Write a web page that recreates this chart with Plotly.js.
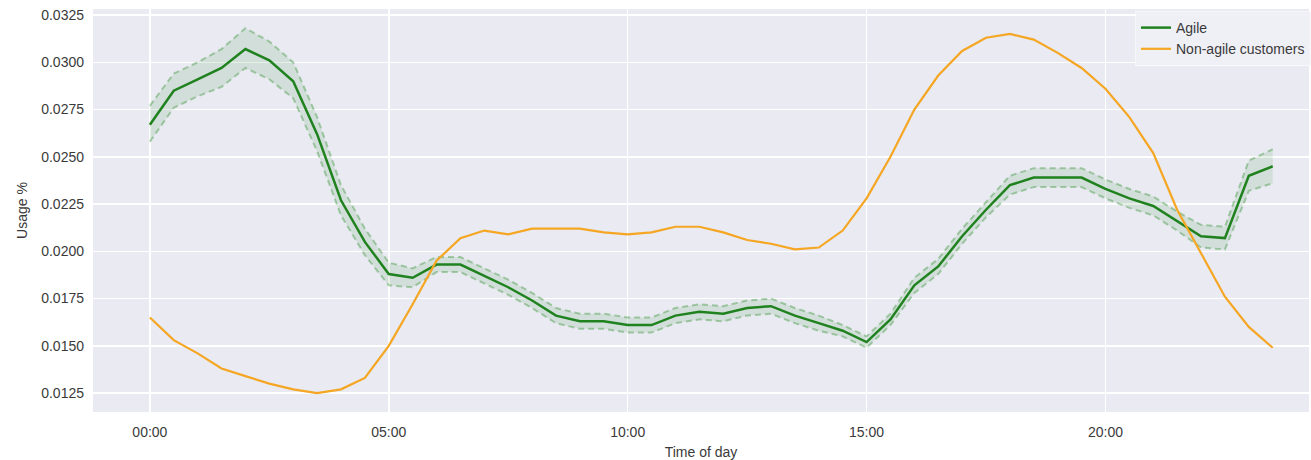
<!DOCTYPE html>
<html>
<head>
<meta charset="utf-8">
<script src="https://cdn.plot.ly/plotly-3.0.1.min.js"></script>
<style>
  html, body { margin: 0; padding: 0; background: #ffffff; }
  #chart { width: 1311px; height: 460px; }
</style>
</head>
<body>
<div id="chart"></div>
<script>
// Time of day in hours (half-hour steps)
const hours = [0, 0.5, 1, 1.5, 2, 2.5, 3, 3.5, 4, 4.5, 5, 5.5, 6, 6.5, 7, 7.5, 8, 8.5, 9, 9.5,
  10, 10.5, 11, 11.5, 12, 12.5, 13, 13.5, 14, 14.5, 15, 15.5, 16, 16.5, 17, 17.5, 18, 18.5, 19, 19.5,
  20, 20.5, 21, 21.5, 22, 22.5, 23, 23.5];

const agile = [0.0267, 0.0285, 0.0291, 0.0297, 0.0307, 0.0301, 0.0290, 0.0262, 0.0227, 0.0205,
  0.0188, 0.0186, 0.0193, 0.0193, 0.0187, 0.0181, 0.0174, 0.0166, 0.0163, 0.0163,
  0.0161, 0.0161, 0.0166, 0.0168, 0.0167, 0.0170, 0.0171, 0.0166, 0.0162, 0.0158,
  0.0152, 0.0164, 0.0182, 0.0192, 0.0208, 0.0222, 0.0235, 0.0239, 0.0239, 0.0239,
  0.0233, 0.0228, 0.0224, 0.0216, 0.0208, 0.0207, 0.0240, 0.0245];

const agileUpper = [0.0277, 0.0294, 0.0300, 0.0307, 0.0318, 0.0311, 0.0300, 0.0271, 0.0235, 0.0212,
  0.0194, 0.0191, 0.0197, 0.0197, 0.0191, 0.0185, 0.0178, 0.0170, 0.0167, 0.0167,
  0.0165, 0.0165, 0.0170, 0.0172, 0.0171, 0.0174, 0.0175, 0.0170, 0.0166, 0.0161,
  0.0155, 0.0167, 0.0186, 0.0196, 0.0212, 0.0226, 0.0240, 0.0244, 0.0244, 0.0244,
  0.0238, 0.0233, 0.0229, 0.0221, 0.0214, 0.0213, 0.0248, 0.0254];

const agileLower = [0.0258, 0.0276, 0.0282, 0.0287, 0.0297, 0.0291, 0.0281, 0.0253, 0.0219, 0.0198,
  0.0182, 0.0181, 0.0189, 0.0189, 0.0183, 0.0177, 0.0170, 0.0162, 0.0159, 0.0159,
  0.0157, 0.0157, 0.0162, 0.0164, 0.0163, 0.0166, 0.0167, 0.0162, 0.0158, 0.0155,
  0.0149, 0.0161, 0.0178, 0.0188, 0.0204, 0.0218, 0.0230, 0.0234, 0.0234, 0.0234,
  0.0228, 0.0223, 0.0219, 0.0211, 0.0202, 0.0201, 0.0232, 0.0236];

const nonAgile = [0.0165, 0.0153, 0.0146, 0.0138, 0.0134, 0.0130, 0.0127, 0.0125, 0.0127, 0.0133,
  0.0150, 0.0172, 0.0195, 0.0207, 0.0211, 0.0209, 0.0212, 0.0212, 0.0212, 0.0210,
  0.0209, 0.0210, 0.0213, 0.0213, 0.0210, 0.0206, 0.0204, 0.0201, 0.0202, 0.0211,
  0.0228, 0.0250, 0.0275, 0.0293, 0.0306, 0.0313, 0.0315, 0.0312, 0.0305, 0.0297,
  0.0286, 0.0271, 0.0252, 0.0222, 0.0199, 0.0176, 0.0160, 0.0149];

const xTickVals = [0, 5, 10, 15, 20];
const xTickText = ["00:00", "05:00", "10:00", "15:00", "20:00"];
const yTickVals = [0.0125, 0.0150, 0.0175, 0.0200, 0.0225, 0.0250, 0.0275, 0.0300, 0.0325];

const seriesNames = ["Agile", "Non-agile customers"];

const traces = [
  {
    x: hours, y: agileLower, type: 'scatter', mode: 'lines',
    line: { color: 'rgba(60,150,60,0.42)', width: 2, dash: '6px,4px' },
    showlegend: false, hoverinfo: 'skip'
  },
  {
    x: hours, y: agileUpper, type: 'scatter', mode: 'lines',
    fill: 'tonexty', fillcolor: 'rgba(40,140,40,0.12)',
    line: { color: 'rgba(60,150,60,0.42)', width: 2, dash: '6px,4px' },
    showlegend: false, hoverinfo: 'skip'
  },
  {
    x: hours, y: agile, type: 'scatter', mode: 'lines', name: seriesNames[0],
    line: { color: '#1f821f', width: 2.5 }
  },
  {
    x: hours, y: nonAgile, type: 'scatter', mode: 'lines', name: seriesNames[1],
    line: { color: '#f5a623', width: 2.2 }
  }
];

const fontFam = '"Liberation Sans", Arial, sans-serif';

const layout = {
  width: 1311, height: 460,
  margin: { l: 93, r: 0, t: 9, b: 48 },
  paper_bgcolor: '#ffffff',
  plot_bgcolor: '#eaeaf2',
  font: { family: fontFam, size: 14, color: '#3a3a3a' },
  showlegend: true,
  legend: {
    x: 0.857, y: 0.995, xanchor: 'left', yanchor: 'top',
    traceorder: 'normal',
    bgcolor: 'rgba(240,240,246,0.9)', bordercolor: 'rgba(255,255,255,0.6)', borderwidth: 1,
    font: { family: fontFam, size: 14, color: '#3a3a3a' },
    itemwidth: 30
  },
  xaxis: {
    range: [-1.19, 24.26],
    tickvals: xTickVals, ticktext: xTickText,
    showgrid: true, gridcolor: '#ffffff', gridwidth: 1.5,
    zeroline: false, showline: false, ticks: '',
    ticklabelstandoff: 10,
    title: { text: 'Time of day', font: { family: fontFam, size: 14, color: '#3a3a3a' }, standoff: 8 }
  },
  yaxis: {
    range: [0.0115, 0.03282],
    tickvals: yTickVals, tickformat: '.4f',
    showgrid: true, gridcolor: '#ffffff', gridwidth: 1.5,
    zeroline: false, showline: false, ticks: '',
    ticklabelstandoff: 8,
    title: { text: 'Usage %', font: { family: fontFam, size: 14, color: '#3a3a3a' }, standoff: 10 }
  }
};

Plotly.newPlot('chart', traces, layout, { displayModeBar: false, staticPlot: true });
</script>
</body>
</html>
